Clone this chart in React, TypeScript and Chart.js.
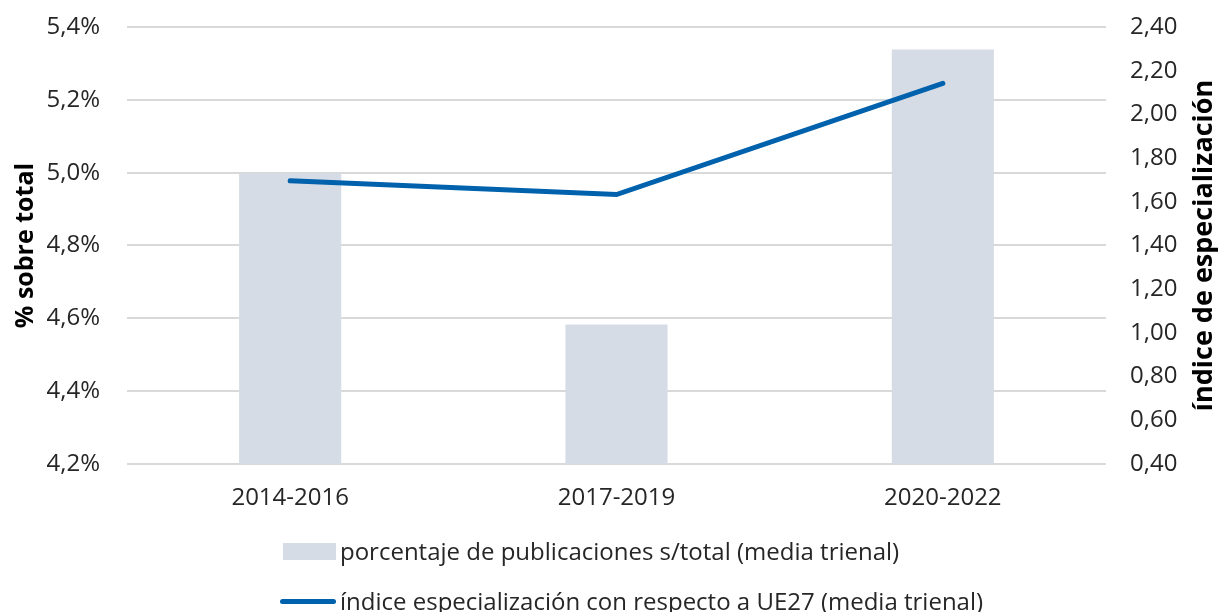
import React, { useEffect, useRef } from "react";
import { Chart, registerables } from "chart.js";

Chart.register(...registerables);

const categories = ["2014-2016", "2017-2019", "2020-2022"];
const sharePct = [5.0, 4.583, 5.338];
const specIndex = [1.696, 1.633, 2.142];
const barLabel = "porcentaje de publicaciones s/total (media trienal)";
const lineLabel = "índice especialización con respecto a UE27 (media trienal)";
const leftTitle = "% sobre total";
const rightTitle = "índice de especialización";

const BAR_COLOR = "#D6DCE5";
const LINE_COLOR = "#0061AC";
const TEXT_COLOR = "#262626";
const FONT = "'Open Sans', 'Noto Sans', sans-serif";

const titlesPlugin = {
  id: "axisTitles",
  afterDraw(chart: any) {
    const ctx = chart.ctx;
    const area = chart.chartArea;
    const cy = (area.top + area.bottom) / 2;
    ctx.save();
    ctx.fillStyle = "#000";
    ctx.font = `bold 25px ${FONT}`;
    ctx.textAlign = "center";
    ctx.textBaseline = "middle";
    ctx.translate(26, cy);
    ctx.rotate(-Math.PI / 2);
    ctx.fillText(leftTitle, 0, 0);
    ctx.restore();
    ctx.save();
    ctx.fillStyle = "#000";
    ctx.font = `bold 27px ${FONT}`;
    ctx.textAlign = "center";
    ctx.textBaseline = "middle";
    ctx.translate(1204, cy);
    ctx.rotate(-Math.PI / 2);
    ctx.fillText(rightTitle, 0, 0);
    ctx.restore();
  },
};

const noPadV = (scale: any) => {
  scale.paddingTop = 0;
  scale.paddingBottom = 0;
};

export default function App() {
  const ref = useRef<HTMLCanvasElement>(null);
  useEffect(() => {
    document.body.style.margin = "0";
    const chart = new Chart(ref.current as HTMLCanvasElement, {
      type: "bar",
      data: {
        labels: categories,
        datasets: [
          {
            type: "line",
            label: lineLabel,
            data: specIndex,
            yAxisID: "y2",
            borderColor: LINE_COLOR,
            backgroundColor: LINE_COLOR,
            borderWidth: 5,
            pointRadius: 0,
            borderCapStyle: "round",
            borderJoinStyle: "miter",
            tension: 0,
            order: 0,
          } as any,
          {
            type: "bar",
            label: barLabel,
            data: sharePct,
            yAxisID: "y",
            backgroundColor: BAR_COLOR,
            categoryPercentage: 1,
            barPercentage: 0.313,
            order: 1,
          },
        ],
      },
      options: {
        animation: false,
        responsive: false,
        maintainAspectRatio: false,
        layout: { padding: { top: 27, left: 0, right: 0, bottom: 0 } },
        plugins: {
          legend: { display: false },
          tooltip: { enabled: false },
        },
        scales: {
          x: {
            grid: { display: false, drawTicks: false },
            border: { display: false },
            ticks: { color: TEXT_COLOR, font: { family: FONT, size: 24 }, padding: 20 },
            afterFit(scale: any) {
              scale.height = 148;
              scale.paddingLeft = 0;
              scale.paddingRight = 0;
            },
          },
          y: {
            position: "left",
            min: 4.2,
            max: 5.4,
            grid: { color: "#D9D9D9", lineWidth: 2, drawTicks: false },
            border: { display: false },
            ticks: {
              stepSize: 0.2,
              padding: 27,
              color: TEXT_COLOR,
              font: { family: FONT, size: 24 },
              callback: (v: any) => Number(v).toFixed(1).replace(".", ",") + "%",
            },
            afterFit(scale: any) {
              scale.width = 127;
              noPadV(scale);
            },
          },
          y2: {
            position: "right",
            min: 0.4,
            max: 2.4,
            grid: { display: false, drawTicks: false },
            border: { display: false },
            ticks: {
              stepSize: 0.2,
              padding: 24,
              color: TEXT_COLOR,
              font: { family: FONT, size: 24 },
              callback: (v: any) => Number(v).toFixed(2).replace(".", ","),
            },
            afterFit(scale: any) {
              scale.width = 114;
              noPadV(scale);
            },
          },
        },
      },
      plugins: [titlesPlugin],
    });
    return () => chart.destroy();
  }, []);

  const legendText: React.CSSProperties = {
    position: "absolute",
    left: 340,
    fontFamily: FONT,
    fontSize: 24,
    color: TEXT_COLOR,
    lineHeight: "28px",
    whiteSpace: "nowrap",
  };

  return (
    <div style={{ position: "relative", width: 1220, height: 612, overflow: "hidden", background: "#fff" }}>
      <canvas ref={ref} width={1220} height={612} style={{ display: "block" }} />
      <div style={{ position: "absolute", left: 283, top: 543, width: 53, height: 17, background: BAR_COLOR }} />
      <div style={{ ...legendText, top: 537 }}>{barLabel}</div>
      <div
        style={{
          position: "absolute",
          left: 280,
          top: 599,
          width: 56,
          height: 5,
          borderRadius: 3,
          background: LINE_COLOR,
        }}
      />
      <div style={{ ...legendText, top: 587 }}>{lineLabel}</div>
    </div>
  );
}
